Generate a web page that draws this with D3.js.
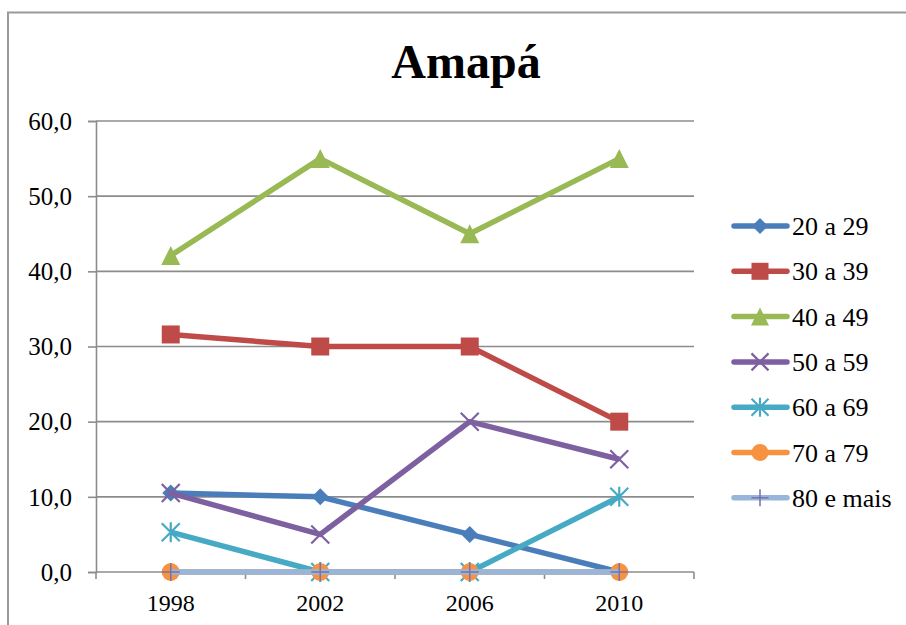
<!DOCTYPE html>
<html><head><meta charset="utf-8">
<script src="https://cdn.jsdelivr.net/npm/d3@7"></script>
<style>body{margin:0;background:#fff}svg{display:block}
text{font-family:"Liberation Serif","Times New Roman",serif !important;}
</style>
</head><body><svg id="c" width="906" height="625"></svg>
<script>
const years = ["1998","2002","2006","2010"];
const seriesNames = ["20 a 29","30 a 39","40 a 49","50 a 59","60 a 69","70 a 79","80 e mais"];
const s20 = [10.5, 10.0, 5.0, 0.0];
const s30 = [31.6, 30.0, 30.0, 20.0];
const s40 = [42.1, 55.0, 45.0, 55.0];
const s50 = [10.5, 5.0, 20.0, 15.0];
const s60 = [5.3, 0.0, 0.0, 10.0];
const s70 = [0.0, 0.0, 0.0, 0.0];
const s80 = [0.0, 0.0, 0.0, 0.0];
const yTicks = [0,10,20,30,40,50,60];
const title = "Amapá";

const seriesValues = [s20,s30,s40,s50,s60,s70,s80];
const colors = ["#4A7EBB","#BE4B48","#98B954","#7D60A0","#46AAC5","#F69240","#97B6DA"];
const markers = ["diamond","square","triangle","x","star","circle","plus"];

const svg = d3.select("#c");

svg.append("rect").attr("x",8).attr("y",12.5).attr("width",1000).attr("height",1000)
  .attr("fill","none").attr("stroke","#9a9a9a").attr("stroke-width",2);

svg.append("text").attr("x",466).attr("y",78).attr("text-anchor","middle")
  .attr("font-weight","bold").attr("font-size",48).text(title);

const L=96, R=694, T=121, B=572;
const x = d3.scaleBand().domain(years).range([L,R]);
const y = d3.scaleLinear().domain([0,60]).range([B,T]);

const g = svg.append("g");
g.selectAll("line.grid").data(yTicks.filter(d=>d>0)).enter().append("line")
  .attr("x1",L).attr("x2",R).attr("y1",d=>y(d)).attr("y2",d=>y(d))
  .attr("stroke","#8c8c8c").attr("stroke-width",1.6);

const yAxis = d3.axisLeft(y).tickValues(yTicks).tickSize(8).tickPadding(16)
  .tickFormat(d=>d3.format(".1f")(d).replace(".",","));
const ya = svg.append("g").attr("transform",`translate(${L},0)`).call(yAxis);
ya.select(".domain").attr("stroke","#8c8c8c").attr("stroke-width",1.6);
ya.selectAll(".tick line").attr("stroke","#8c8c8c").attr("stroke-width",1.6);
ya.selectAll("text").attr("font-size",25).attr("fill","#000").attr("dy","0.33em");

const xa = svg.append("g").attr("transform",`translate(0,${B})`)
  .call(d3.axisBottom(x).tickSize(0).tickPadding(22));
xa.select(".domain").attr("stroke","#8c8c8c").attr("stroke-width",1.6).attr("d",`M${L},0H${R}`);
xa.selectAll("text").attr("font-size",24).attr("fill","#000");
const bounds = years.map(d=>x(d)).concat([R]);
xa.selectAll("line.bt").data(bounds).enter().append("line")
  .attr("x1",d=>d).attr("x2",d=>d).attr("y1",0).attr("y2",7)
  .attr("stroke","#8c8c8c").attr("stroke-width",1.6);

function drawMarker(sel, type, color, s){
  const h=s/2;
  if(type==="diamond"){
    sel.append("path").attr("d",`M0,${-h}L${h},0L0,${h}L${-h},0Z`).attr("fill",color);
  } else if(type==="square"){
    sel.append("rect").attr("x",-h).attr("y",-h).attr("width",s).attr("height",s).attr("fill",color);
  } else if(type==="triangle"){
    sel.append("path").attr("d",`M0,${-h}L${h},${h}L${-h},${h}Z`).attr("fill",color);
  } else if(type==="x"){
    sel.append("path").attr("d",`M${-h},${-h}L${h},${h}M${-h},${h}L${h},${-h}`).attr("stroke",color).attr("stroke-width",2.2);
  } else if(type==="star"){
    sel.append("path").attr("d",`M${-h},${-h}L${h},${h}M${-h},${h}L${h},${-h}M0,${-h-1}L0,${h+1}`).attr("stroke",color).attr("stroke-width",2.2);
  } else if(type==="circle"){
    sel.append("circle").attr("r",h).attr("fill",color);
  } else if(type==="plus"){
    sel.append("path").attr("d",`M0,${-h}L0,${h}M${-h},0L${h},0`).attr("stroke","#7a72a8").attr("stroke-width",1.5);
  }
}
const msize = [17,18,19,18,18,18,18];

const line = d3.line().x((d,i)=>x(years[i])+x.bandwidth()/2).y(d=>y(d));
seriesValues.forEach((vals,si)=>{
  const sg = svg.append("g");
  sg.append("path").datum(vals).attr("d",line).attr("fill","none")
    .attr("stroke",colors[si]).attr("stroke-width",5.5).attr("stroke-linejoin","round");
  vals.forEach((v,i)=>{
    const m = sg.append("g").attr("transform",`translate(${x(years[i])+x.bandwidth()/2},${y(v)})`);
    drawMarker(m, markers[si], colors[si], msize[si]);
  });
});

const lg = svg.append("g");
seriesNames.forEach((n,i)=>{
  const yy = 226 + i*45.3;
  const row = lg.append("g").attr("transform",`translate(0,${yy})`);
  row.append("line").attr("x1",734).attr("x2",787).attr("y1",0).attr("y2",0)
    .attr("stroke",colors[i]).attr("stroke-width",5.5).attr("stroke-linecap","round");
  const m = row.append("g").attr("transform",`translate(760,0)`);
  drawMarker(m, markers[i], colors[i], msize[i]-1);
  row.append("text").attr("x",792).attr("y",0).attr("dy","0.35em")
    .attr("font-size",26).attr("fill","#000").text(n);
});
</script></body></html>
